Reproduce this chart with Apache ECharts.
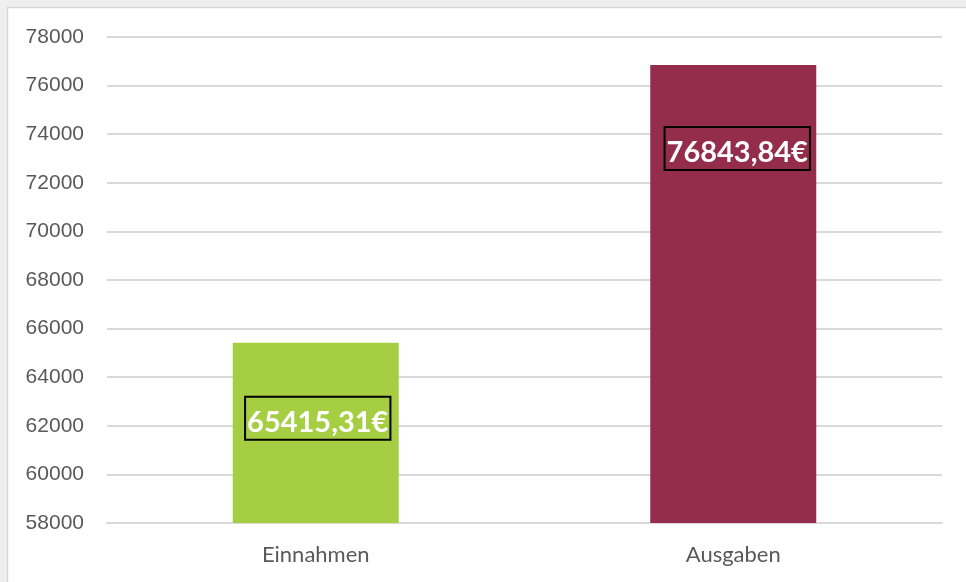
<!DOCTYPE html>
<html>
<head>
<meta charset="utf-8">
<script src="https://cdn.jsdelivr.net/npm/echarts@6/dist/echarts.min.js"></script>
<style>
html,body{margin:0;padding:0;background:#efefef;}
#c{width:966px;height:582px;}
</style>
</head>
<body>
<div id="c"></div>
<script>
const categories = ['Einnahmen', 'Ausgaben'];
const values = [65415.31, 76843.84];
const labelTexts = ['65415,31€', '76843,84€'];
const yTicks = [58000, 60000, 62000, 64000, 66000, 68000, 70000, 72000, 74000, 76000, 78000];

const barColors = ['#a6ce43', '#942c4c'];
const labelDistances = [54, 62];
const labelShiftX = [2, 4];

const chart = echarts.init(document.getElementById('c'), null, {renderer: 'canvas'});
chart.setOption({
  backgroundColor: 'transparent',
  animation: false,
  graphic: [{
    type: 'rect', z: -10, silent: true,
    shape: {x: 7.5, y: 7.5, width: 1000, height: 1000},
    style: {fill: '#ffffff', stroke: '#d6d6d6', lineWidth: 1.5}
  }],
  grid: {left: 107, right: 24, top: 37, bottom: 59, containLabel: false},
  xAxis: {
    type: 'category',
    data: categories,
    axisLine: {show: true, lineStyle: {color: '#d9d9d9', width: 2}},
    axisTick: {show: false},
    axisLabel: {color: '#595959', fontFamily: 'Lato', fontSize: 22, margin: 21}
  },
  yAxis: {
    type: 'value',
    min: yTicks[0],
    max: yTicks[yTicks.length - 1],
    interval: yTicks[1] - yTicks[0],
    axisLine: {show: false},
    axisTick: {show: false},
    splitLine: {lineStyle: {color: '#d9d9d9', width: 2}},
    axisLabel: {
      color: '#595959', fontFamily: 'Liberation Sans', fontSize: 21, margin: 23,
      formatter: v => String(v)
    }
  },
  series: [{
    type: 'bar',
    barWidth: 166,
    data: values.map((v, i) => ({
      value: v,
      itemStyle: {color: barColors[i]},
      label: {
        show: true,
        position: 'insideTop',
        distance: labelDistances[i],
        offset: [labelShiftX[i], 0],
        formatter: () => labelTexts[i],
        color: '#ffffff',
        fontFamily: 'Lato',
        fontWeight: 'bold',
        fontSize: 29,
        lineHeight: 30,
        borderColor: '#000000',
        borderWidth: 2,
        padding: [11, 2, 2, 2]
      }
    }))
  }]
});
</script>
</body>
</html>
